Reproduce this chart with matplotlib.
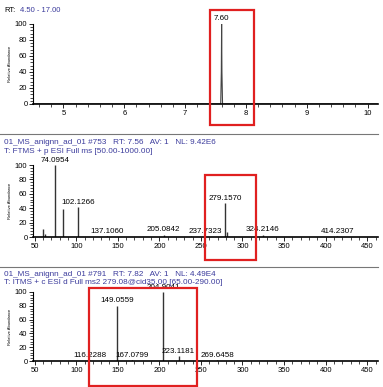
import matplotlib
matplotlib.use('Agg')
import matplotlib.pyplot as plt
from matplotlib.patches import Rectangle
from matplotlib.ticker import MultipleLocator

plt.rcParams['font.family'] = ['Liberation Sans', 'DejaVu Sans']

# chromatogram
rt = [4.5, 7.585, 7.595, 7.60, 7.605, 7.615, 10.2]
rt_int = [0, 0, 40, 100, 40, 0, 0]

# full MS
ms1_mz = [60.0, 62.0, 74.0954, 84.0, 102.1266, 137.1060, 205.0842, 237.7323, 279.1570, 281.0, 324.2146, 414.2307]
ms1_int = [11, 4, 100, 39, 41, 1, 3, 1, 47, 7, 3, 1]
ms1_lab = ['', '', '74.0954', '', '102.1266', '137.1060', '205.0842', '237.7323', '279.1570', '', '324.2146', '414.2307']
ms1_lab_dx = [0, 0, 0, 0, 0, 0, 0, 17, 0, 0, 0, 0]

# MS2 of 279.08
ms2_mz = [116.2288, 149.0559, 167.0799, 204.9041, 223.1181, 269.6458]
ms2_int = [1, 80, 1, 100, 7, 1]

W, H = 383, 387
fig = plt.figure(figsize=(W / 100, H / 100), dpi=100)

def ax_px(x0, y_top, x1, y_bot):
    return fig.add_axes([x0 / W, (H - y_bot) / H, (x1 - x0) / W, (y_bot - y_top) / H])

def style(ax):
    for s in ['top', 'right']:
        ax.spines[s].set_visible(False)
    ax.spines['left'].set_linewidth(0.8)
    ax.spines['bottom'].set_linewidth(1.2)
    ax.set_ylim(0, 100)
    ax.yaxis.set_major_locator(MultipleLocator(20))
    ax.yaxis.set_minor_locator(MultipleLocator(4))
    ax.tick_params(labelsize=5.5, length=3, width=0.6, pad=1)
    ax.tick_params(which='minor', length=2, width=0.5)
    ax.set_ylabel('Relative Abundance', fontsize=3, labelpad=2)

blue = '#3b3b9c'
lab_fs = 5.8
hdr_fs = 5.9

# panel 1
ax1 = ax_px(33, 24, 378, 104)
ax1.plot(rt, rt_int, color='#444444', lw=0.8)
ax1.set_xlim(4.5, 10.17)
ax1.xaxis.set_major_locator(MultipleLocator(1))
ax1.xaxis.set_minor_locator(MultipleLocator(0.2))
style(ax1)
ax1.text(7.60, 102, '7.60', ha='center', va='bottom', fontsize=lab_fs)
fig.text(4 / W, 1 - 10 / H, 'RT:', fontsize=5.5, va='center')
fig.text(20 / W, 1 - 10 / H, '4.50 - 17.00', fontsize=5.5, va='center', color=blue)

# separator lines
fig.add_artist(plt.Line2D([0, 378 / W], [1 - 134 / H] * 2, color='#777777', lw=0.8))
fig.add_artist(plt.Line2D([0, 378 / W], [1 - 267 / H] * 2, color='#777777', lw=0.8))

# panel 2
ax2 = ax_px(33, 165, 378, 237)
ax2.vlines(ms1_mz, 0, ms1_int, color='#333333', lw=1.0)
ax2.set_xlim(48, 463)
ax2.xaxis.set_major_locator(MultipleLocator(50))
ax2.xaxis.set_minor_locator(MultipleLocator(10))
style(ax2)
for mz, it, lb, dx in zip(ms1_mz, ms1_int, ms1_lab, ms1_lab_dx):
    if lb:
        ax2.text(mz + dx, it + 2, lb, ha='center', va='bottom', fontsize=lab_fs, clip_on=False)
fig.text(4 / W, 1 - 143 / H, '01_MS_anignn_ad_01 #753   RT: 7.56   AV: 1   NL: 9.42E6',
         fontsize=hdr_fs, va='center', color=blue)
fig.text(4 / W, 1 - 152 / H, 'T: FTMS + p ESI Full ms [50.00-1000.00]',
         fontsize=hdr_fs, va='center', color=blue)

# panel 3
ax3 = ax_px(33, 292, 378, 361)
ax3.vlines(ms2_mz, 0, ms2_int, color='#333333', lw=1.0)
ax3.set_xlim(48, 463)
ax3.xaxis.set_major_locator(MultipleLocator(50))
ax3.xaxis.set_minor_locator(MultipleLocator(10))
style(ax3)
for mz, it in zip(ms2_mz, ms2_int):
    ax3.text(mz, it + 2, f'{mz:.4f}', ha='center', va='bottom', fontsize=lab_fs, clip_on=False)
fig.text(4 / W, 1 - 275 / H, '01_MS_anignn_ad_01 #791   RT: 7.82   AV: 1   NL: 4.49E4',
         fontsize=hdr_fs, va='center', color=blue)
fig.text(4 / W, 1 - 283 / H, 'T: ITMS + c ESI d Full ms2 279.08@cid35.00 [65.00-290.00]',
         fontsize=hdr_fs, va='center', color=blue)

# red boxes (pixel coords)
for x0, y0, x1, y1 in [(210, 10, 254, 125), (205, 175, 256, 260), (89, 288, 197, 386)]:
    fig.add_artist(Rectangle((x0 / W, 1 - y1 / H), (x1 - x0) / W, (y1 - y0) / H,
                             transform=fig.transFigure, fill=False, ec='#e02020', lw=1.6))

fig.savefig('out.png', dpi=100)
